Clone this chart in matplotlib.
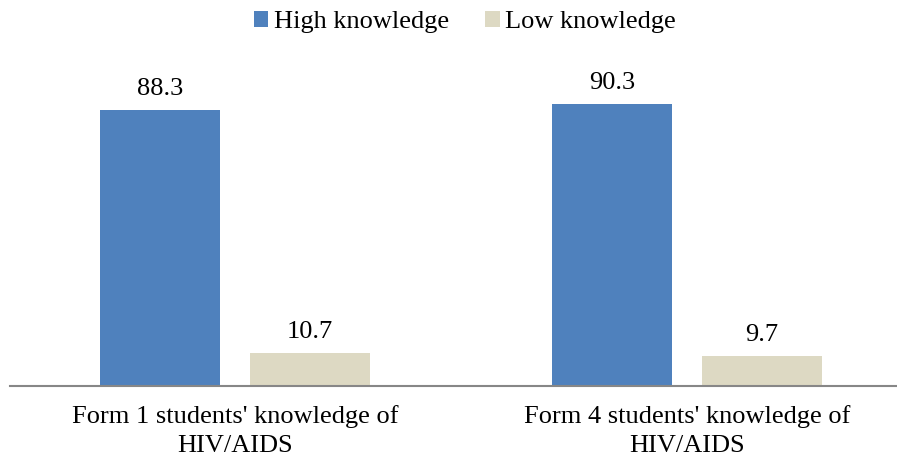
import numpy as np
import matplotlib.pyplot as plt

categories = ["Form 1 students' knowledge of\nHIV/AIDS", "Form 4 students' knowledge of\nHIV/AIDS"]
series = ["High knowledge", "Low knowledge"]
high = [88.3, 90.3]
low = [10.7, 9.7]
colors = ["#4F81BD", "#DDD9C3"]

plt.rcParams['font.family'] = ['Liberation Serif', 'DejaVu Serif']
fs = 19

fig = plt.figure(figsize=(8.97, 4.61), dpi=100)
ax = fig.add_axes([0.011, 0.1627, 0.989, 0.678])

x = np.arange(len(categories))
w = 0.265
gap = 0.066
for vals, off, c, name in [(high, -(w + gap) / 2, colors[0], series[0]),
                           (low, (w + gap) / 2, colors[1], series[1])]:
    bars = ax.bar(x + off, vals, w, color=c, label=name)
    for b, v in zip(bars, vals):
        ax.annotate(f"{v}", (b.get_x() + b.get_width() / 2, v),
                    xytext=(0, 7), textcoords='offset points',
                    ha='center', va='bottom', fontsize=fs)

ax.set_xlim(-0.498, 1.464)
ax.set_ylim(0, 100)
ax.set_xticks(x)
ax.set_xticklabels(categories, fontsize=fs, linespacing=1.4)
ax.tick_params(axis='x', length=0, pad=14)
ax.set_yticks([])
for s in ['top', 'right', 'left']:
    ax.spines[s].set_visible(False)
ax.spines['bottom'].set_color('#878787')
ax.spines['bottom'].set_linewidth(1.5)

fig.legend(loc='center', bbox_to_anchor=(0.518, 0.952), ncol=2, frameon=False,
           fontsize=fs, handlelength=0.55, handleheight=0.55, handletextpad=0.2,
           columnspacing=1.38)

fig.savefig('out.png', dpi=100)
